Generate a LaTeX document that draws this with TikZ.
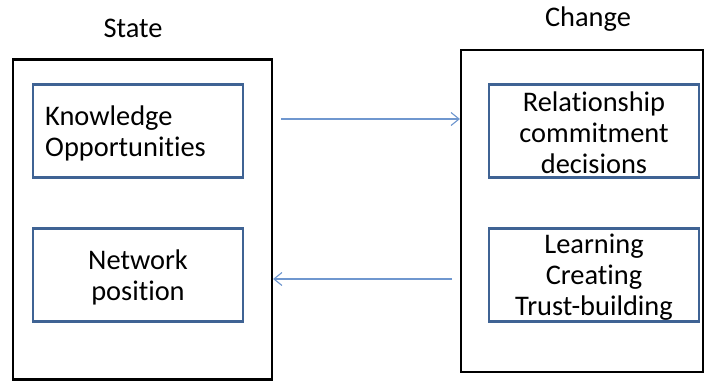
\documentclass[tikz,border=0pt]{standalone}
\usepackage{fontspec}
\setmainfont[RawFeature={-liga;-clig}]{Carlito}
\usetikzlibrary{arrows.meta}
\definecolor{innerblue}{HTML}{3F6394}
\definecolor{arrowblue}{HTML}{6F97CF}
\tikzset{
  outerbox/.style={draw=black, line width=2.2pt, minimum width=#1, inner sep=0pt},
  innerbox/.style={draw=innerblue, line width=2.4pt, minimum width=210pt, minimum height=93pt, inner sep=0pt},
  txt/.style={font=\fontsize{28.4}{31}\selectfont, align=center, inner sep=0pt},
  flow/.style={draw=arrowblue, line width=1.1pt, -{Straight Barb[length=8pt,width=13pt]}}
}
\begin{document}
\begin{tikzpicture}[x=1pt,y=-1pt]
\useasboundingbox[fill=white] (0,0) rectangle (705,381);
\node[outerbox=259pt, minimum height=320pt] (lout) at (142.5,219.5) {};
\node[outerbox=242pt, minimum height=322pt] (rout) at (582,211) {};
\node[innerbox] (k) at (138,131) {};
\node[innerbox] (n) at (138,275) {};
\node[innerbox] (r) at (594,131) {};
\node[innerbox] (l) at (594,275) {};
\node[txt] (state) at (133,28) {State};
\node[txt] (change) at (588,19) {Change};
\node[txt, align=left, anchor=west] (kt) at (45,133) {Knowledge\\Opportunities};
\node[txt] (nt) at (138,277) {Network\\position};
\node[txt] (rt) at (594,133) {Relationship\\commitment\\decisions};
\node[txt] (lt) at (594,277) {Learning\\Creating\\Trust-building};
\coordinate (a1) at (281,119);
\coordinate (a2) at (452,279);
\draw[flow] (a1) -- (a1 -| rout.west);
\draw[flow] (a2) -- (a2 -| lout.east);
\end{tikzpicture}
\end{document}
